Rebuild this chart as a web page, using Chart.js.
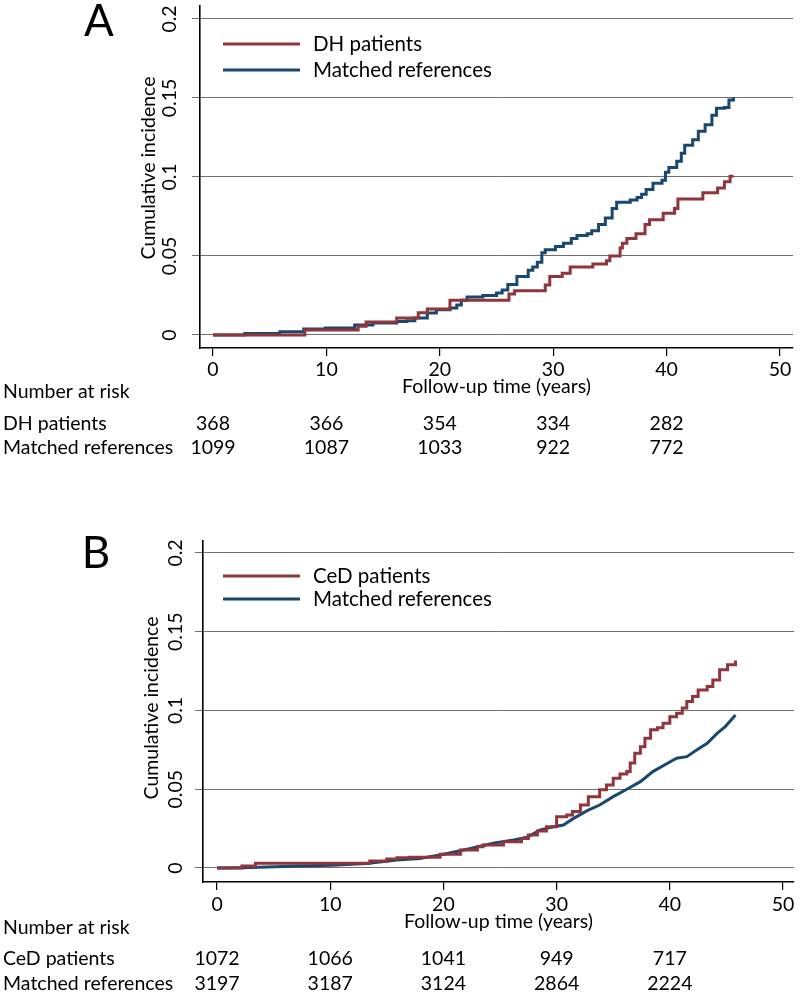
<!DOCTYPE html>
<html>
<head>
<meta charset="utf-8">
<script src="https://cdn.jsdelivr.net/npm/chart.js@4/dist/chart.umd.min.js"></script>
<style>
  html, body { margin: 0; padding: 0; background: #fff; }
  #wrap { position: relative; width: 800px; height: 996px; }
  #wrap canvas { position: absolute; left: 0; }
  #cA { top: 0; }
  #cB { top: 490px; }
</style>
</head>
<body>
<div id="wrap">
  <canvas id="cA" width="800" height="490"></canvas>
  <canvas id="cB" width="800" height="506"></canvas>
</div>
<script>
// ---------- DATA ----------
const xTickValues = [0, 10, 20, 30, 40, 50];
const yTickValues = [0, 0.05, 0.1, 0.15, 0.2];
const yTickLabels = ['0', '0.05', '0.1', '0.15', '0.2'];
const yTitle = 'Cumulative incidence';
const xTitle = 'Follow-up time (years)';
const riskTitle = 'Number at risk';
const riskTimes = [0, 10, 20, 30, 40];

// Panel A
const labelsA = ['DH patients', 'Matched references'];
const dhTimes = [0, 8.1, 12.8, 13.5, 16.2, 18.1, 18.9, 20.9, 26.1, 26.6, 29.3, 29.7, 30.8, 31.5, 33.5, 34.7, 35.0, 35.9, 36.1, 36.5, 37.3, 38.1, 38.5, 39.7, 40.7, 41.0, 43.2, 44.5, 45.1, 45.6, 45.9];
const dhValues = [0, 0.0032, 0.0055, 0.0082, 0.0107, 0.014, 0.0165, 0.022, 0.026, 0.028, 0.0316, 0.037, 0.039, 0.043, 0.045, 0.047, 0.050, 0.055, 0.058, 0.061, 0.064, 0.070, 0.073, 0.077, 0.080, 0.086, 0.090, 0.093, 0.097, 0.1005, 0.1005];
const refATimes = [0, 2.8, 5.9, 8.0, 9.9, 12.5, 14.1, 16.2, 17.1, 17.8, 18.9, 19.7, 20.9, 21.5, 21.9, 22.4, 23.8, 25.0, 25.5, 26.0, 26.8, 27.8, 28.2, 28.6, 29.0, 29.3, 30.2, 30.9, 31.6, 32.1, 33.0, 33.4, 34.0, 34.6, 35.2, 35.6, 36.8, 37.4, 37.8, 38.2, 38.8, 39.6, 39.9, 40.2, 40.9, 41.3, 41.6, 42.3, 42.8, 43.4, 44.0, 44.4, 45.1, 45.5, 45.9];
const refAValues = [0, 0.001, 0.002, 0.0038, 0.0044, 0.0063, 0.0076, 0.0085, 0.009, 0.0107, 0.0139, 0.016, 0.0171, 0.019, 0.022, 0.024, 0.025, 0.0265, 0.0285, 0.032, 0.037, 0.041, 0.043, 0.046, 0.052, 0.054, 0.056, 0.058, 0.061, 0.063, 0.064, 0.066, 0.070, 0.074, 0.080, 0.084, 0.0855, 0.087, 0.089, 0.092, 0.096, 0.098, 0.103, 0.106, 0.110, 0.115, 0.120, 0.1235, 0.129, 0.133, 0.139, 0.1435, 0.144, 0.1487, 0.1505];
const riskDH = [368, 366, 354, 334, 282];
const riskRefA = [1099, 1087, 1033, 922, 772];

// Panel B
const labelsB = ['CeD patients', 'Matched references'];
const cedTimes = [0, 2.2, 3.4, 13.5, 15.0, 15.9, 17.0, 19.7, 21.5, 23.0, 23.5, 25.3, 26.9, 27.5, 28.3, 29.1, 30.0, 30.9, 31.4, 32.1, 32.8, 33.8, 34.4, 35.0, 35.6, 36.2, 36.5, 36.9, 37.4, 37.8, 38.3, 38.9, 39.4, 40.0, 40.6, 41.1, 41.5, 42.0, 42.5, 43.3, 43.8, 44.4, 45.1, 45.8];
const cedValues = [0, 0.0013, 0.003, 0.0044, 0.0057, 0.0065, 0.0068, 0.0087, 0.0114, 0.0135, 0.0146, 0.0167, 0.0188, 0.021, 0.0235, 0.0262, 0.0326, 0.0337, 0.0358, 0.040, 0.0453, 0.0496, 0.0527, 0.057, 0.0597, 0.0612, 0.0667, 0.0728, 0.077, 0.0823, 0.0877, 0.0891, 0.0919, 0.0961, 0.0983, 0.1015, 0.1057, 0.1088, 0.113, 0.1152, 0.1194, 0.1258, 0.129, 0.1317];
const refBTimes = [0, 2.3, 4.4, 7.3, 10.2, 13.2, 15.9, 17.9, 19.7, 22.1, 24.4, 26.2, 27.4, 28.5, 29.7, 30.6, 31.5, 32.7, 33.8, 35.0, 36.2, 37.4, 38.5, 39.8, 40.6, 41.5, 42.4, 43.3, 44.2, 44.9, 45.8];
const refBValues = [0, 0.0002, 0.0006, 0.0012, 0.0018, 0.0028, 0.005, 0.0061, 0.0083, 0.0119, 0.0157, 0.0178, 0.0195, 0.0241, 0.0262, 0.0273, 0.0315, 0.0364, 0.040, 0.0453, 0.050, 0.0548, 0.0612, 0.0665, 0.0697, 0.0707, 0.075, 0.0792, 0.0856, 0.0898, 0.0972];
const riskCeD = [1072, 1066, 1041, 949, 717];
const riskRefB = [3197, 3187, 3124, 2864, 2224];

// ---------- STYLE ----------
const FONT = 'Lato, "Open Sans", sans-serif';
const RED = '#90353b';
const BLUE = '#1a476f';
const GRID = '#6f6f6f';

const pts = (ts, vs) => ts.map((t, i) => ({ x: t, y: vs[i] }));

const decor = {
  id: 'kmDecor',
  afterDraw(chart, args, o) {
    const ctx = chart.ctx, xs = chart.scales.x, ys = chart.scales.y, ca = chart.chartArea;
    ctx.save();
    ctx.fillStyle = '#000';
    ctx.textBaseline = 'middle';
    ctx.textAlign = 'center';
    // panel letter
    ctx.font = '44px ' + FONT;
    ctx.fillText(o.panel, o.panelX, o.panelY);
    // rotated y tick labels
    ctx.font = '19.5px ' + FONT;
    yTickValues.forEach((v, i) => {
      ctx.save();
      ctx.translate(o.yLabelX, ys.getPixelForValue(v));
      ctx.rotate(-Math.PI / 2);
      ctx.fillText(yTickLabels[i], 0, 0);
      ctx.restore();
    });
    // y title
    ctx.save();
    ctx.translate(o.yTitleX, o.yTitleY);
    ctx.rotate(-Math.PI / 2);
    ctx.fillText(yTitle, 0, 0);
    ctx.restore();
    // x tick labels
    xTickValues.forEach(v => ctx.fillText(String(v), xs.getPixelForValue(v), o.xLabelY));
    // x title
    ctx.fillText(xTitle, (ca.left + ca.right) / 2, o.xTitleY);
    // legend
    ctx.font = '20.5px ' + FONT;
    chart.data.datasets.forEach((ds, i) => {
      const y = o.legendY[i];
      ctx.strokeStyle = ds.borderColor;
      ctx.lineWidth = 3;
      ctx.beginPath();
      ctx.moveTo(223, y);
      ctx.lineTo(300, y);
      ctx.stroke();
      ctx.textAlign = 'left';
      ctx.fillText(ds.label, 313, y);
    });
    // number at risk table
    ctx.font = '19.5px ' + FONT;
    ctx.textAlign = 'left';
    ctx.fillText(riskTitle, 3, o.riskTitleY);
    o.rows.forEach((row, r) => {
      ctx.textAlign = 'left';
      ctx.fillText(row.label, 3, o.rowY[r]);
      ctx.textAlign = 'center';
      row.values.forEach((n, i) => ctx.fillText(String(n), xs.getPixelForValue(riskTimes[i]), o.rowY[r]));
    });
    ctx.restore();
  }
};

function makeChart(id, cfg) {
  return new Chart(document.getElementById(id), {
    type: 'line',
    data: {
      datasets: [
        { label: cfg.labels[0], data: pts(cfg.t1, cfg.v1), borderColor: RED, borderWidth: 3, pointRadius: 0, stepped: 'before', fill: false },
        { label: cfg.labels[1], data: pts(cfg.t2, cfg.v2), borderColor: BLUE, borderWidth: 3, pointRadius: 0, stepped: cfg.step2, fill: false }
      ]
    },
    options: {
      responsive: false,
      animation: false,
      events: [],
      layout: { padding: { left: 0, top: cfg.top, right: cfg.right, bottom: cfg.bottom } },
      plugins: {
        legend: { display: false },
        tooltip: { enabled: false },
        kmDecor: cfg.decor
      },
      scales: {
        x: {
          type: 'linear',
          min: cfg.xmin, max: cfg.xmax,
          afterBuildTicks: s => { s.ticks = xTickValues.map(v => ({ value: v })); },
          afterFit: s => { s.height = 20; },
          ticks: { display: false },
          grid: { drawOnChartArea: false, drawTicks: true, tickLength: 8, color: '#000', lineWidth: 1.2 },
          border: { display: true, color: '#000', width: 1.6 }
        },
        y: {
          type: 'linear',
          min: cfg.ymin, max: cfg.ymax,
          afterBuildTicks: s => { s.ticks = yTickValues.map(v => ({ value: v })); },
          afterFit: s => { s.width = cfg.left; },
          ticks: { display: false },
          grid: { drawOnChartArea: true, drawTicks: true, tickLength: 8, color: GRID, lineWidth: 1 },
          border: { display: true, color: '#000', width: 1.6 }
        }
      }
    },
    plugins: [decor]
  });
}

// Panel A: chart area left 200, right 793, top 6, bottom 348 (canvas height 490)
makeChart('cA', {
  labels: labelsA, t1: dhTimes, v1: dhValues, t2: refATimes, v2: refAValues, step2: 'before',
  left: 200, right: 7, top: 6, bottom: 490 - 348 - 20,
  xmin: -1.146, xmax: 51.15, ymin: -0.00823, ymax: 0.2082,
  decor: {
    panel: 'A', panelX: 99, panelY: 22,
    yLabelX: 170, yTitleX: 149, yTitleY: 168,
    xLabelY: 370, xTitleY: 387,
    legendY: [44, 70],
    riskTitleY: 392, rowY: [424, 448],
    rows: [{ label: labelsA[0], values: riskDH }, { label: labelsA[1], values: riskRefA }]
  }
});

// Panel B: canvas top 490; chart area left 203, right 794, top 51, bottom 392 (canvas height 506)
makeChart('cB', {
  labels: labelsB, t1: cedTimes, v1: cedValues, t2: refBTimes, v2: refBValues, step2: false,
  left: 203, right: 6, top: 51, bottom: 506 - 392 - 20,
  xmin: -1.24, xmax: 50.97, ymin: -0.00889, ymax: 0.2076,
  decor: {
    panel: 'B', panelX: 96, panelY: 64,
    yLabelX: 176, yTitleX: 152, yTitleY: 218,
    xLabelY: 415, xTitleY: 432,
    legendY: [86, 109],
    riskTitleY: 438, rowY: [469, 494],
    rows: [{ label: labelsB[0], values: riskCeD }, { label: labelsB[1], values: riskRefB }]
  }
});
</script>
</body>
</html>
